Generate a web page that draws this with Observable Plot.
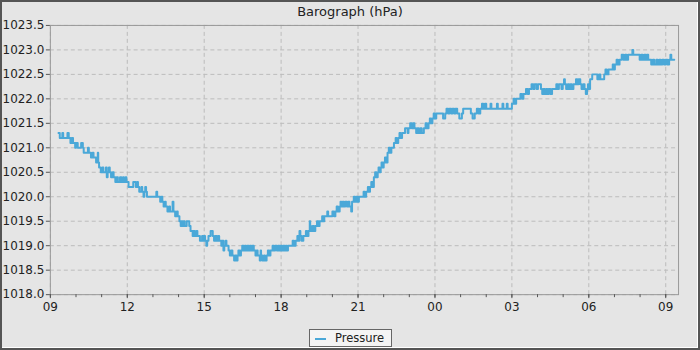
<!DOCTYPE html>
<html>
<head>
<meta charset="utf-8">
<script src="https://cdn.jsdelivr.net/npm/d3@7"></script>
<script src="https://cdn.jsdelivr.net/npm/@observablehq/plot@0.6"></script>
<style>
  html, body { margin: 0; padding: 0; background: #e5e5e5; }
  #page { position: relative; width: 700px; height: 350px; box-sizing: border-box;
    border: 2px solid #555; box-shadow: inset -1px -1px 0 #fff; background: #e5e5e5;
    font-family: "DejaVu Sans", sans-serif; overflow: hidden; }
  #title { position: absolute; left: 0; top: 2px; width: 696px; text-align: center;
    font-size: 13px; color: #222; line-height: 16px; }
  #chart { position: absolute; left: -2px; top: -2px; }
  #legend { position: absolute; left: 307px; top: 327px; width: 81px; height: 16px;
    border: 1px solid #666; background: #f4f4f4; font-size: 11.5px; color: #222; }
  #legend .sw { position: absolute; left: 5px; top: 8px; width: 11px; height: 2px; background: #4aa8d8; }
  #legend .tx { position: absolute; left: 25px; top: 1px; line-height: 14px; }
</style>
</head>
<body>
<div id="page">
  <div id="title">Barograph (hPa)</div>
  <div id="chart"></div>
  <div id="legend"><span class="sw"></span><span class="tx">Pressure</span></div>
</div>
<script>
// Minutes after 09:00 on day one
const minutes = [
  19,22,28,30,40,43,47,50,53,58,60,64,72,76,78,88,90,95,99,101,107,111,112,114,118,122,124,130,132,134,137,139,142,146,148,152,155,158,163,166,170,172,176,178,183,
  194,200,203,205,208,213,215,218,220,222,224,226,248,250,257,260,262,265,268,270,274,278,280,286,288,292,296,298,302,305,307,309,312,314,319,325,328,333,335,338,342,344,350,
  355,357,359,362,365,367,370,375,380,383,386,389,392,395,400,402,405,407,410,412,417,420,423,426,430,433,436,438,440,443,446,449,452,455,458,461,464,467,470,473,476,480,483,485,490,492,493,496,500,502,506,509,512,515,520,523,526,530,533,536,539,
  542,545,548,551,553,556,567,570,574,578,580,583,585,588,592,598,601,604,607,608,610,614,617,620,624,627,630,636,639,641,648,650,660,664,667,670,673,677,679,681,684,687,690,694,697,700,704,706,710,713,716,719,722,
  733,736,739,743,746,748,751,754,757,760,763,766,768,771,773,775,778,780,783,786,789,792,795,798,804,808,811,814,817,820,823,830,836,838,842,846,849,852,856,859,862,866,869,874,878,881,885,888,891,894,897,900,903,
  919,924,927,931,934,938,941,945,948,952,957,963,966,984,988,993,998,1002,1006,1010,1013,1017,1020,1030,1032,1045,1047,1058,1060,1068,1070,
  1080,1084,1087,1090,1100,1104,1107,1113,1117,1120,1126,1130,1133,1138,1141,1148,1151,1154,1157,1160,1163,1166,1170,1174,1184,1187,1190,1196,1199,1202,1204,1207,1211,1214,1217,1220,1224,1230,1233,1236,1240,1243,1247,1250,1253,1256,
  1258,1261,1263,1268,1280,1284,1287,1296,1299,1302,1306,1316,1319,1321,1325,1328,1332,1337,1341,1345,1348,1352,1362,1364,1379,1383,1386,1390,1393,1396,1399,1406,1410,1413,1418,1421,1425,1428,1432,1436,1440,1444,1448,1451,1453,1460
];
const pressure = [
  1021.3,1021.2,1021.3,1021.2,1021.3,1021.2,1021.1,1021.2,1021.1,1021.0,1021.1,1021.0,1021.1,1021.0,1020.9,1021.0,1020.9,1020.8,1020.9,1020.8,1020.7,1020.9,1020.7,1020.6,1020.5,1020.6,1020.5,1020.6,1020.4,1020.5,1020.6,1020.5,1020.4,1020.5,1020.4,1020.3,1020.4,1020.3,1020.4,1020.3,1020.4,1020.3,1020.4,1020.3,1020.2,
  1020.3,1020.2,1020.3,1020.2,1020.1,1020.2,1020.1,1020.0,1020.1,1020.2,1020.1,1020.0,1020.1,1020.0,1019.9,1020.0,1019.9,1019.8,1019.9,1019.8,1019.7,1019.8,1019.7,1019.9,1019.7,1019.6,1019.7,1019.6,1019.5,1019.4,1019.5,1019.4,1019.5,1019.4,1019.5,1019.4,1019.3,1019.2,1019.3,1019.2,1019.3,1019.2,1019.1,
  1019.2,1019.1,1019.2,1019.1,1019.0,1019.1,1019.2,1019.3,1019.2,1019.1,1019.2,1019.1,1019.2,1019.1,1019.0,1019.1,1018.9,1019.0,1019.1,1019.0,1018.9,1018.8,1018.9,1018.8,1018.7,1018.8,1018.7,1018.8,1018.9,1018.8,1018.9,1019.0,1018.9,1019.0,1018.9,1019.0,1018.9,1019.0,1018.9,1019.0,1018.9,1018.8,1018.9,1018.8,1018.7,1018.9,1018.8,1018.7,1018.8,1018.7,1018.8,1018.9,1018.8,1018.9,1019.0,1018.9,1019.0,1018.9,1019.0,1018.9,1019.0,
  1018.9,1019.0,1018.9,1019.0,1018.9,1019.0,1019.1,1019.0,1019.1,1019.2,1019.1,1019.3,1019.2,1019.1,1019.2,1019.3,1019.2,1019.3,1019.5,1019.4,1019.3,1019.4,1019.3,1019.4,1019.5,1019.4,1019.5,1019.6,1019.5,1019.6,1019.7,1019.6,1019.7,1019.6,1019.7,1019.8,1019.7,1019.8,1019.9,1019.8,1019.9,1019.8,1019.9,1019.8,1019.9,1019.8,1019.7,1019.9,1020.0,1019.9,1020.0,1019.9,1020.0,
  1020.1,1020.0,1020.1,1020.2,1020.1,1020.2,1020.3,1020.2,1020.4,1020.5,1020.4,1020.5,1020.6,1020.5,1020.6,1020.7,1020.6,1020.7,1020.8,1020.7,1020.9,1021.0,1020.9,1021.0,1021.1,1021.2,1021.1,1021.2,1021.3,1021.2,1021.3,1021.4,1021.3,1021.4,1021.5,1021.4,1021.5,1021.4,1021.3,1021.4,1021.3,1021.4,1021.3,1021.4,1021.5,1021.4,1021.5,1021.6,1021.5,1021.6,1021.7,1021.6,1021.7,
  1021.6,1021.7,1021.8,1021.7,1021.8,1021.7,1021.8,1021.7,1021.8,1021.7,1021.6,1021.7,1021.8,1021.7,1021.6,1021.7,1021.8,1021.7,1021.8,1021.9,1021.8,1021.9,1021.8,1021.9,1021.8,1021.9,1021.8,1021.9,1021.8,1021.9,1021.8,
  1021.9,1022.0,1021.9,1022.0,1022.1,1022.0,1022.1,1022.2,1022.1,1022.2,1022.3,1022.2,1022.3,1022.2,1022.3,1022.2,1022.1,1022.2,1022.1,1022.2,1022.1,1022.2,1022.1,1022.2,1022.3,1022.2,1022.3,1022.2,1022.3,1022.4,1022.3,1022.2,1022.3,1022.2,1022.3,1022.2,1022.3,1022.4,1022.3,1022.4,1022.3,1022.2,1022.3,1022.2,1022.1,1022.2,
  1022.3,1022.2,1022.4,1022.5,1022.4,1022.5,1022.4,1022.5,1022.6,1022.5,1022.6,1022.7,1022.6,1022.7,1022.8,1022.7,1022.8,1022.9,1022.8,1022.9,1022.8,1022.9,1023.0,1022.9,1022.8,1022.9,1022.8,1022.9,1022.8,1022.9,1022.8,1022.7,1022.8,1022.7,1022.8,1022.7,1022.8,1022.7,1022.8,1022.7,1022.8,1022.7,1022.8,1022.9,1022.8,1022.8
];
const yTicks = [1018.0,1018.5,1019.0,1019.5,1020.0,1020.5,1021.0,1021.5,1022.0,1022.5,1023.0,1023.5];
const xTickHours = [0,3,6,9,12,15,18,21,24];
const xTickLabels = ["09","12","15","18","21","00","03","06","09"];

const base = Date.UTC(2024, 0, 1, 9, 0);
const hour = 3600000;
const data = minutes.map((m, i) => ({t: new Date(base + m * 60000), p: pressure[i]}));
const xMajor = xTickHours.map(h => new Date(base + h * hour));
const xMinor = d3.range(0, 25).map(h => new Date(base + h * hour));
const yMinor = d3.range(180, 236).map(v => v / 10);
const labelOf = new Map(xMajor.map((d, i) => [+d, xTickLabels[i]]));

const chart = Plot.plot({
  width: 700, height: 320,
  marginTop: 25, marginLeft: 50, marginRight: 20, marginBottom: 25,
  style: {background: "transparent", fontFamily: "DejaVu Sans", fontSize: "12px", color: "#222"},
  x: {type: "utc", domain: [new Date(base), new Date(base + 24.5 * hour)]},
  y: {domain: [1018, 1023.5]},
  marks: [
    Plot.gridX(xMajor, {stroke: "#bcbcbc", strokeOpacity: 1, strokeDasharray: "4,3"}),
    Plot.gridY(yTicks, {stroke: "#bcbcbc", strokeOpacity: 1, strokeDasharray: "4,3"}),
    Plot.frame({stroke: "#999"}),
    Plot.axisY(yMinor, {tickSize: 2, tickFormat: () => "", stroke: "#555", label: null}),
    Plot.axisY(yTicks, {tickSize: 4, tickPadding: 2, tickFormat: d => d.toFixed(1), stroke: "#555", fill: "#222", fontSize: 12, label: null}),
    Plot.axisX(xMinor, {tickSize: 3, tickFormat: () => "", stroke: "#555", label: null}),
    Plot.axisX(xMajor, {tickSize: 4, tickPadding: 4, tickFormat: d => labelOf.get(+d), stroke: "#555", fill: "#222", fontSize: 12, label: null}),
    Plot.line(data, {x: "t", y: "p", curve: "step-after", stroke: "#4aa8d8", strokeWidth: 2})
  ]
});
document.getElementById("chart").appendChild(chart);
</script>
</body>
</html>
